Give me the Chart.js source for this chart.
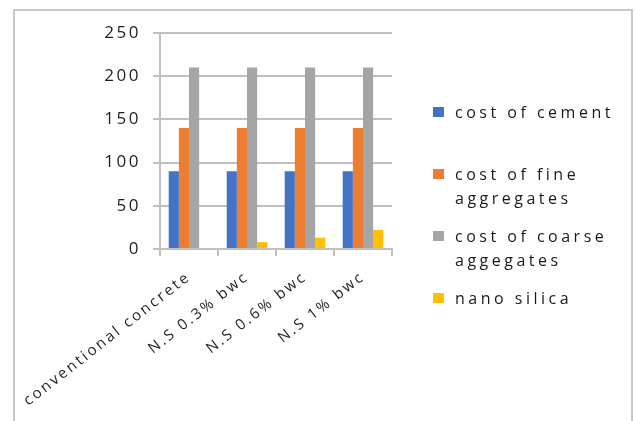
<!DOCTYPE html>
<html>
<head>
<meta charset="utf-8">
<script src="https://cdn.jsdelivr.net/npm/chart.js@4/dist/chart.umd.min.js"></script>
<style>
  html, body { margin: 0; padding: 0; background: #fff; }
  #wrap { position: relative; width: 636px; height: 421px; }
</style>
</head>
<body>
<div id="wrap"><canvas id="chartCost" width="636" height="421"></canvas></div>
<script>
'use strict';

// ── Data ──────────────────────────────────────────────
var categories = ['conventional concrete', 'N.S 0.3% bwc', 'N.S 0.6% bwc', 'N.S 1% bwc'];
var cementCost = [90, 90, 90, 90];
var fineAggCost = [140, 140, 140, 140];
var coarseAggCost = [210, 210, 210, 210];
var nanoSilica = [0, 8, 13, 22];
var seriesNames = ['cost of cement', 'cost of fine\naggregates', 'cost of coarse\naggegates', 'nano silica'];
var yTicks = [0, 50, 100, 150, 200, 250];

var COLORS = {
    blue: '#4472C4',
    orange: '#ED7D31',
    grey: '#A5A5A5',
    gold: '#FFC000',
    grid: '#BFBFBF',
    text: '#1f1f1f'
};

var FONT = '"Open Sans", "DejaVu Sans", sans-serif';
var SPACING = '2.5px';

// letterSpacing is reset whenever the canvas is resized, so re-apply it
var spacingPlugin = {
    id: 'spacing',
    beforeLayout: function(chart) { chart.ctx.letterSpacing = SPACING; },
    beforeDraw: function(chart) { chart.ctx.letterSpacing = SPACING; }
};

// outer frame around the whole chart
var framePlugin = {
    id: 'frame',
    beforeDraw: function(chart) {
        var ctx = chart.ctx;
        ctx.save();
        ctx.strokeStyle = '#C8C8C8';
        ctx.lineWidth = 2;
        ctx.strokeRect(14, 10, 618, 440);
        ctx.restore();
    }
};

// small tick marks under the x axis, between categories
var catTicks = {
    id: 'catTicks',
    afterDraw: function(chart) {
        var xs = chart.scales.x;
        var ctx = chart.ctx;
        var n = categories.length;
        var step = (xs.right - xs.left) / n;
        ctx.save();
        ctx.strokeStyle = COLORS.grid;
        ctx.lineWidth = 2;
        ctx.beginPath();
        for (var i = 0; i <= n; i++) {
            var x = Math.round(xs.left + i * step);
            ctx.moveTo(x, xs.top);
            ctx.lineTo(x, xs.top + 7);
        }
        ctx.stroke();
        ctx.restore();
    }
};

// legend on the right, with wrapped labels
var sideLegend = {
    id: 'sideLegend',
    afterDraw: function(chart) {
        var ctx = chart.ctx;
        var x = 433, y = 112, step = 62, lineH = 24;
        ctx.save();
        ctx.letterSpacing = '3.5px';
        ctx.font = '16px ' + FONT;
        ctx.textBaseline = 'middle';
        chart.data.datasets.forEach(function(ds, i) {
            var cy = y + i * step;
            ctx.fillStyle = ds.backgroundColor;
            ctx.fillRect(x, cy - 5, 11, 10);
            ctx.fillStyle = '#1a1a1a';
            ds.label.split('\n').forEach(function(line, j) {
                ctx.fillText(line, x + 22, cy + 1 + j * lineH);
            });
        });
        ctx.restore();
    }
};

var barStyle = { barPercentage: 1, categoryPercentage: 0.7 };

function makeSet(label, data, color) {
    return Object.assign({ label: label, data: data, backgroundColor: color }, barStyle);
}

new Chart(document.getElementById('chartCost'), {
    type: 'bar',
    data: {
        labels: categories,
        datasets: [
            makeSet(seriesNames[0], cementCost, COLORS.blue),
            makeSet(seriesNames[1], fineAggCost, COLORS.orange),
            makeSet(seriesNames[2], coarseAggCost, COLORS.grey),
            makeSet(seriesNames[3], nanoSilica, COLORS.gold)
        ]
    },
    plugins: [spacingPlugin, framePlugin, catTicks, sideLegend],
    options: {
        responsive: false,
        animation: false,
        layout: { padding: { left: 0, top: 33, right: 244, bottom: 0 } },
        plugins: {
            legend: { display: false },
            tooltip: { enabled: false }
        },
        scales: {
            x: {
                grid: { display: false },
                border: { color: COLORS.grid, width: 2 },
                ticks: {
                    color: COLORS.text,
                    font: { family: FONT, size: 15 },
                    minRotation: 38,
                    maxRotation: 38,
                    padding: 11
                },
                afterFit: function(scale) {
                    scale.height = 172;
                    // the long first label may overhang the y axis area
                    scale.paddingLeft = 0;
                }
            },
            y: {
                min: 0,
                max: 250,
                afterBuildTicks: function(scale) {
                    scale.ticks = yTicks.map(function(v) { return { value: v }; });
                },
                grid: { color: COLORS.grid, lineWidth: 2, tickLength: 7 },
                border: { color: COLORS.grid, width: 2 },
                ticks: {
                    color: COLORS.text,
                    font: { family: FONT, size: 17 },
                    padding: 12
                },
                afterFit: function(scale) { scale.width = 160; }
            }
        }
    }
});
</script>
</body>
</html>
